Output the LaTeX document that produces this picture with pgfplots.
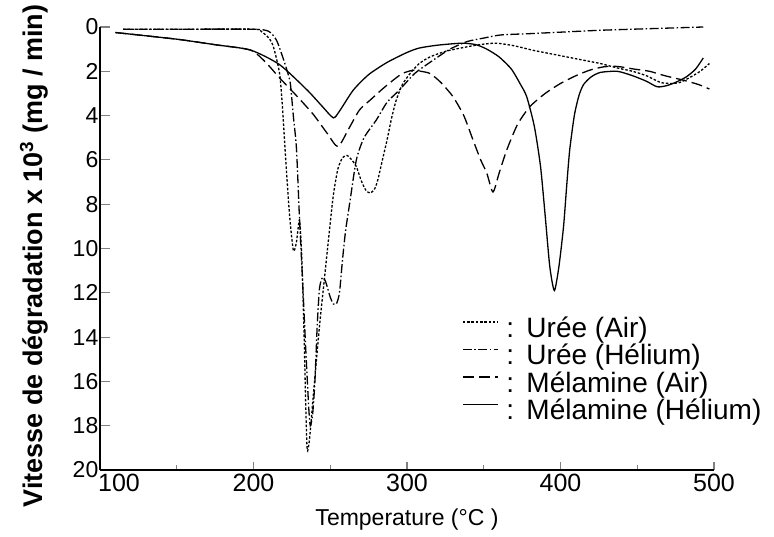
\documentclass[border=0pt]{standalone}
\usepackage{fontspec}
\setmainfont{Liberation Sans}
\usepackage{pgfplots}
\pgfplotsset{compat=1.18}

\begin{document}
\begin{tikzpicture}
\begin{axis}[
    scale only axis,
    width=614pt, height=443pt,
    xmin=100, xmax=500, ymin=0, ymax=20,
    y dir=reverse,
    axis x line*=bottom, axis y line*=left,
    axis line style={line width=1.2pt},
    tick align=inside,
    xtick={100,200,...,500},
    xticklabels={\hspace{38pt}100,200,300,400,500},
    minor xtick={150,250,350,450},
    ytick={0,2,...,20},
    major tick length=10pt,
    minor tick length=5pt,
    xtick style={line width=1.1pt, /pgfplots/major tick length=8pt},
    ytick style={line width=1.1pt},
    /pgf/number format/assume math mode=true,
    /pgf/number format/1000 sep={},
    yticklabel style={font=\fontsize{23}{23}\selectfont, inner sep=1.5pt},
    xticklabel style={font=\fontsize{25}{25}\selectfont, inner sep=4pt},
    xlabel={Temperature (°C )},
    xlabel style={at={(axis description cs:0.5,0)}, yshift=-50pt, anchor=center,
        font=\fontsize{23}{23}\selectfont},
    ylabel={Vitesse de dégradation x 10\textsuperscript{3} (mg / min)},
    ylabel style={at={(axis description cs:-0.1075,0.483)}, anchor=center,
        font=\fontsize{27}{27}\selectfont\bfseries},
    every axis plot/.append style={line width=1.3pt, black},
    legend cell align=left,
    legend image code/.code={\draw[#1] (0pt,9pt) -- (35pt,9pt);},
    legend style={at={(axis description cs:0.5798,0.359)}, anchor=north west,
        draw=none, fill=white, inner sep=6pt, row sep=0pt, column sep=8pt,
        nodes={inner sep=0pt, text height=20pt, text depth=7.5pt},
        font=\fontsize{28}{28}\selectfont},
]

% Uree (Air)
\addplot[smooth, tension=0.4, dash pattern=on 2.5pt off 1.8pt] coordinates {
(115,0.1) (150,0.1) (200,0.1) (205,0.2) (210,0.5) (213,0.9) (217,2.1)
(219,3.75) (221,6.0) (223.5,8.5) (226,10.1) (228,9.7) (230,8.7)
(231.5,10.5) (233,14) (234,17) (235,19.1) (236.5,18.6) (239,16.6)
(243,13.5) (246,11.5) (249,9.5) (252,7.6) (255,6.4) (258,5.9) (261,5.8)
(264,6.0) (267,6.3) (270,6.9) (273,7.35) (276,7.5) (279,7.3) (281,6.9)
(284,6.0) (287,5.1) (290,4.1) (293,3.3) (297,2.6) (302,2.1) (308,1.65)
(315,1.35) (325,1.1) (335,0.95) (347,0.8) (358,0.73) (370,0.85) (382,1.05)
(393,1.2) (404,1.35) (415,1.5) (426,1.65) (437,1.85) (447,2.0) (456,2.2)
(465,2.5) (472,2.55) (478,2.5) (485,2.25) (491,2.0) (497,1.65)
};
\addlegendentry{\makebox[20pt][l]{:}Urée (Air)}

% Uree (Helium)
\addplot[smooth, tension=0.4, dash pattern=on 9pt off 2.5pt on 1.5pt off 2.5pt] coordinates {
(115,0.1) (150,0.1) (200,0.1) (210,0.2) (215,0.6) (219,1.35) (222,2.0)
(224,2.55) (226,4.05) (228,5.5) (230,8.7) (232,11.5) (234,14.5) (236,17.2)
(237,18.0) (238.5,17.5) (240,16) (241.5,13.5) (243,11.8) (245,11.3)
(247,11.5) (250,12.2) (252,12.5) (254,12.5) (256,12.0) (258,10.5)
(260,9.2) (263,7.8) (267,6.0) (272,5.0) (280,4.2) (287,3.4) (295,2.85)
(305,2.1) (317,1.5) (328,1.0) (339,0.66) (350,0.5) (361,0.36) (380,0.3)
(404,0.22) (425,0.15) (447,0.1) (470,0.05) (493,0.0)
};
\addlegendentry{\makebox[20pt][l]{:}Urée (Hélium)}

% Melamine (Air)
\addplot[smooth, tension=0.4, dash pattern=on 11pt off 5pt] coordinates {
(110,0.25) (150,0.55) (175,0.8) (198,1.04) (208,1.6) (217,2.3) (228,3.1)
(239,3.95) (248,4.8) (255,5.4) (262,4.6) (269,3.75) (276,3.3) (284,2.8)
(291,2.4) (297,2.1) (304,1.95) (309,2.0) (315,2.1) (322,2.5) (330,3.15)
(337,4.0) (343,5.1) (348,6.0) (352,6.6) (356,7.45) (360,6.6) (365,5.55)
(372,4.4) (380,3.6) (390,3.0) (400,2.55) (410,2.2) (419,1.95) (428,1.8)
(437,1.78) (448,1.9) (458,2.0) (468,2.2) (480,2.4) (490,2.6) (497,2.8)
};
\addlegendentry{\makebox[20pt][l]{:}Mélamine (Air)}

% Melamine (Helium)
\addplot[smooth, tension=0.4] coordinates {
(110,0.25) (150,0.55) (175,0.8) (198,1.04) (217,1.7) (235,2.85) (245,3.6)
(252,4.1) (256,3.8) (265,2.85) (275,2.15) (287,1.6) (300,1.15) (308,0.95)
(320,0.82) (336,0.73) (345,0.8) (352,1.0) (360,1.35) (368,1.9) (374,2.6)
(378,3.15) (383,4.5) (387,6.3) (390,8.5) (393,10.8) (396,11.9) (399,10.8)
(402,9.0) (404,7.2) (406,5.55) (409,4.0) (412,3.1) (415,2.6) (420,2.25)
(426,2.05) (437,2.0) (447,2.2) (456,2.45) (463,2.7) (469,2.65) (475,2.5)
(482,2.25) (488,1.9) (493,1.4)
};
\addlegendentry{\makebox[20pt][l]{:}Mélamine (Hélium)}

\end{axis}
\path (-100pt,-67pt) rectangle (674pt,470pt);
\end{tikzpicture}
\end{document}
